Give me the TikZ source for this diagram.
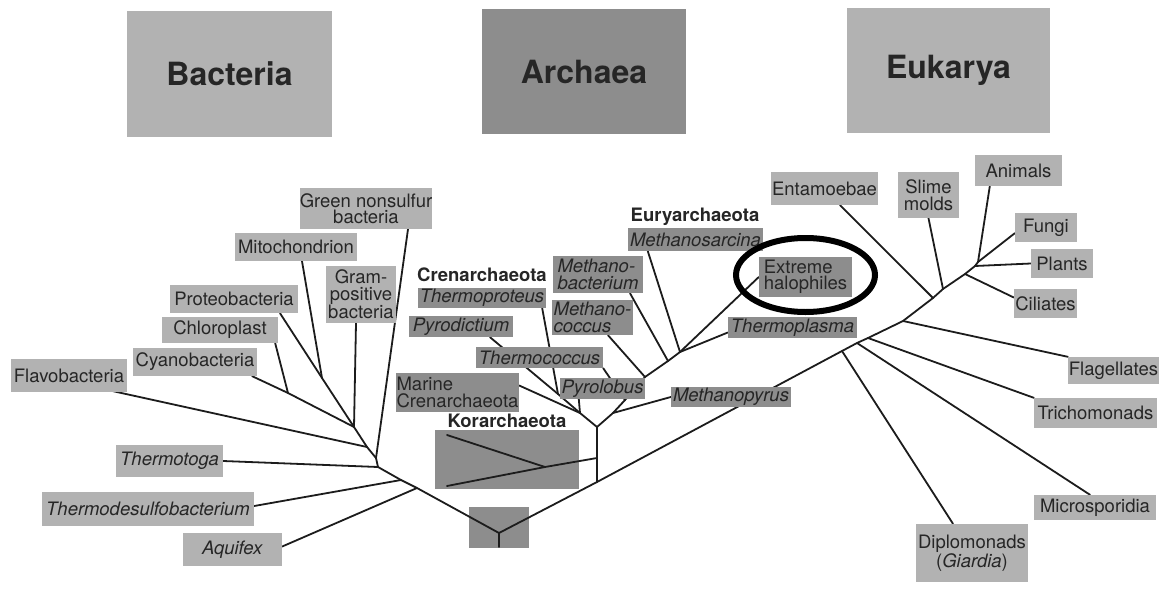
\documentclass[tikz,border=0pt]{standalone}
\usepackage{fontspec}
\setmainfont{TeX Gyre Heros}
\usetikzlibrary{calc}
\pgfdeclarelayer{bg}
\pgfdeclarelayer{lines}
\pgfdeclarelayer{fg}
\pgfsetlayers{bg,lines,main,fg}
\definecolor{boxL}{RGB}{178,178,178}
\definecolor{boxD}{RGB}{141,141,141}
\definecolor{txt}{RGB}{38,38,38}
\definecolor{ln}{RGB}{28,28,28}
\begin{document}
\begin{tikzpicture}[x=1pt,y=-1pt,
  lab/.style={inner sep=0pt, text=txt, font=\fontsize{18.5}{16.5}\selectfont, align=center},
  lbox/.style={lab, fill=boxL},
  dbox/.style={lab, fill=boxD},
  big/.style={inner sep=0pt, text=txt, font=\fontsize{32}{36}\selectfont\bfseries},
  grp/.style={inner sep=0pt, text=txt, font=\fontsize{18.5}{20}\selectfont\bfseries},
  br/.style={draw=ln, line width=1.8pt, line join=round, line cap=round},
  sz/.style 2 args={minimum width=#1pt, minimum height=#2pt},
  ring/.style={draw=black, line width=6pt}
]
\useasboundingbox (0,0) rectangle (1162,605);
\begin{pgfonlayer}{bg}
\fill[white] (0,0) rectangle (1162,605);
\node[dbox, sz={144}{59}] (kor) at (507,459.5) {};
\node[dbox, sz={60}{41}] (root) at (499,527.5) {};
\end{pgfonlayer}

% domain headers
\node[big, fill=boxL, sz={205}{126}] (bact) at (229.5,74) {Bacteria};
\node[big, fill=boxD, sz={204}{125}] (arch) at (584,71.5) {Archaea};
\node[big, fill=boxL, sz={203}{125}] (euk) at (948.5,70.5) {Eukarya};

% bacteria
\node[lbox, sz={132}{41}] (green) at (366,208.5) {Green nonsulfur\\bacteria};
\node[lbox, sz={122}{28}] (mito) at (296,247) {Mitochondrion};
\node[lbox, sz={70}{57}] (gram) at (361,294.5) {Gram-\\positive\\bacteria};
\node[lbox, sz={128}{28}] (proteo) at (234,299) {Proteobacteria};
\node[lbox, sz={116}{26}] (chloro) at (220,330) {Chloroplast};
\node[lbox, sz={124}{28}] (cyano) at (195,362) {Cyanobacteria};
\node[lbox, sz={116}{33}] (flavo) at (69,375.5) {Flavobacteria};
\node[lbox, sz={107}{32}] (thermotoga) at (169.5,461) {\textit{Thermotoga}};
\node[lbox, sz={212}{34}] (thermodesulfo) at (148,509) {\textit{Thermodesulfobacterium}};
\node[lbox, sz={99}{33}] (aquifex) at (232.5,549.5) {\textit{Aquifex}};

% archaea
\node[grp] (eury) at (695,217) {Euryarchaeota};
\node[grp] (cren) at (482,275) {Crenarchaeota};
\node[grp] (korl) at (507,421) {Korarchaeota};
\node[dbox, sz={135}{23}] (methanosarcina) at (695.5,239.5) {\textit{Methanosarcina}};
\node[dbox, sz={128}{20}] (thermoproteus) at (482,298) {\textit{Thermoproteus}};
\node[dbox, sz={104}{21}] (pyrodictium) at (461,326.5) {\textit{Pyrodictium}};
\node[dbox, sz={90}{37}, align=left] (methanobacterium) at (598,274.5) {\textit{Methano-}\\\textit{bacterium}};
\node[dbox, sz={81}{35}, align=left] (methanococcus) at (592.5,317.5) {\textit{Methano-}\\\textit{coccus}};
\node[dbox, sz={127}{21}] (thermococcus) at (539.5,357.5) {\textit{Thermococcus}};
\node[dbox, sz={123}{39}, align=left] (marine) at (457.5,392.5) {Marine\\Crenarchaeota};
\node[dbox, sz={85}{21}] (pyrolobus) at (602.5,388.5) {\textit{Pyrolobus}};
\node[dbox, sz={120}{20}] (methanopyrus) at (731,397) {\textit{Methanopyrus}};
\node[dbox, sz={93}{40}, align=left] (halophiles) at (805.5,277) {Extreme\\halophiles};
\node[dbox, sz={129}{21}] (thermoplasma) at (792.5,327.5) {\textit{Thermoplasma}};

% eukarya
\node[lbox, sz={107}{33}] (entamoebae) at (824.5,188.5) {Entamoebae};
\node[lbox, sz={61}{46}] (slime) at (928.5,195) {Slime\\molds};
\node[lbox, sz={87}{31}] (animals) at (1018.5,170.5) {Animals};
\node[lbox, sz={62}{29}] (fungi) at (1046,227.5) {Fungi};
\node[lbox, sz={62}{29}] (plants) at (1062,263.5) {Plants};
\node[lbox, sz={63}{29}] (ciliates) at (1045.5,303.5) {Ciliates};
\node[lbox, sz={91}{27}] (flagellates) at (1113.5,370.5) {Flagellates};
\node[lbox, sz={123}{30}] (trichomonads) at (1095.5,413) {Trichomonads};
\node[lbox, sz={122}{25}] (microsporidia) at (1095,507.5) {Microsporidia};
\node[lbox, sz={112}{58}] (diplomonads) at (972,553) {Diplomonads\\(\textit{Giardia})};

% junctions
\coordinate (R) at (499,533);
\coordinate (R0) at (499,547);
\coordinate (Ja) at (417,488);
\coordinate (Jt) at (401,480);
\coordinate (B1) at (378,467);
\coordinate (B2) at (376,458);
\coordinate (B3) at (367,447);
\coordinate (B4) at (354,427);
\coordinate (Jm) at (322,378);
\coordinate (Jc) at (288,393);
\coordinate (A) at (597,482);
\coordinate (A2) at (597,427);
\coordinate (Kv) at (597,458);
\coordinate (Kj) at (545,467);
\coordinate (Kl) at (447,486);
\coordinate (Ku) at (447,435);
\coordinate (C0) at (580,413);
\coordinate (Jtp) at (558,394);
\coordinate (E0) at (613,413);
\coordinate (Jtc) at (625,400);
\coordinate (E1) at (645,377);
\coordinate (E2) at (668,361);
\coordinate (E3) at (680,352);
\coordinate (K1) at (842,351);
\coordinate (K2) at (857,343);
\coordinate (K3) at (868,338);
\coordinate (K4) at (903,321);
\coordinate (K5) at (933,298);
\coordinate (K6) at (943,289);
\coordinate (K7) at (965,274);
\coordinate (K8) at (975,266);
\coordinate (K9) at (978,262);

\begin{pgfonlayer}{lines}
% bacteria
\draw[br] (R0) -- (R);
\draw[br] (R) -- (Ja) -- (Jt) -- (B1) -- (B2) -- (B3) -- (B4);
\draw[br] ($(aquifex.east)+(0,-3)$) -- (Ja);
\draw[br] ($(thermodesulfo.east)+(0,-3)$) -- (Jt);
\draw[br] (thermotoga.east) -- (B1);
\draw[br] ($(green.south)+(42,0)$) -- (B2);
\draw[br] ($(flavo.south east)+(-14,-1)$) -- (B3);
\draw[br] ($(gram.south)+(-5,0)$) -- (B4);
\draw[br] ($(proteo.south)+(46,0)$) -- (Jm) -- (B4);
\draw[br] ($(mito.south)+(6,0)$) -- (Jm);
\draw[br] ($(cyano.south east)+(-5,0)$) -- (Jc) -- (B4);
\draw[br] ($(chloro.south east)+(-3,0)$) -- (Jc);
% archaea
\draw[br] (R) -- (A) -- (K1) -- (K2) -- (K3) -- (K4) -- (K5) -- (K6) -- (K7) -- (K8) -- (K9) -- ($(fungi.south west)+(0,-9)$);
\draw[br] (A) -- (Kv) -- (A2);
\draw[br] (Kl) -- (Kj) -- (Kv);
\draw[br] (Ku) -- (Kj);
\draw[br] (C0) -- (A2) -- (E0);
\draw[br] (C0) -- (Jtp) -- ($(pyrodictium.south)+(29,0)$);
\draw[br] (Jtp) -- ($(thermoproteus.south east)+(-4,0)$);
\draw[br] (C0) -- ($(marine.east)+(0,-7)$);
\draw[br] (C0) -- ($(pyrolobus.south west)+(19,0)$);
\draw[br] (E0) -- (methanopyrus.west);
\draw[br] (E0) -- (Jtc) -- (E1) -- (E2) -- (E3);
\draw[br] (Jtc) -- (thermococcus.south east);
\draw[br] (E1) -- ($(methanococcus.south)+(15.5,0)$);
\draw[br] (E2) -- ($(methanobacterium.south)+(32,0)$);
\draw[br] (E3) -- ($(methanosarcina.south west)+(20,0)$);
\draw[br] (E3) -- (halophiles.west);
\draw[br] (E3) -- ($(thermoplasma.west)+(0,5)$);
% eukarya
\draw[br] (K1) -- ($(diplomonads.north)+(-19,0)$);
\draw[br] (K2) -- ($(microsporidia.north)+(-5,0)$);
\draw[br] (K3) -- (trichomonads.north west);
\draw[br] (K4) -- (flagellates.north west);
\draw[br] (K5) -- ($(entamoebae.south)+(15.5,0)$);
\draw[br] (K6) -- (slime.south);
\draw[br] (K7) -- ($(ciliates.west)+(0,-6)$);
\draw[br] (K8) -- (plants.west);
\draw[br] (K9) -- ($(animals.south west)+(15,0)$);
\end{pgfonlayer}

\begin{pgfonlayer}{fg}
\draw[ring] (805.5,275) ellipse [x radius=69.5pt, y radius=37pt];
\end{pgfonlayer}
\end{tikzpicture}
\end{document}
